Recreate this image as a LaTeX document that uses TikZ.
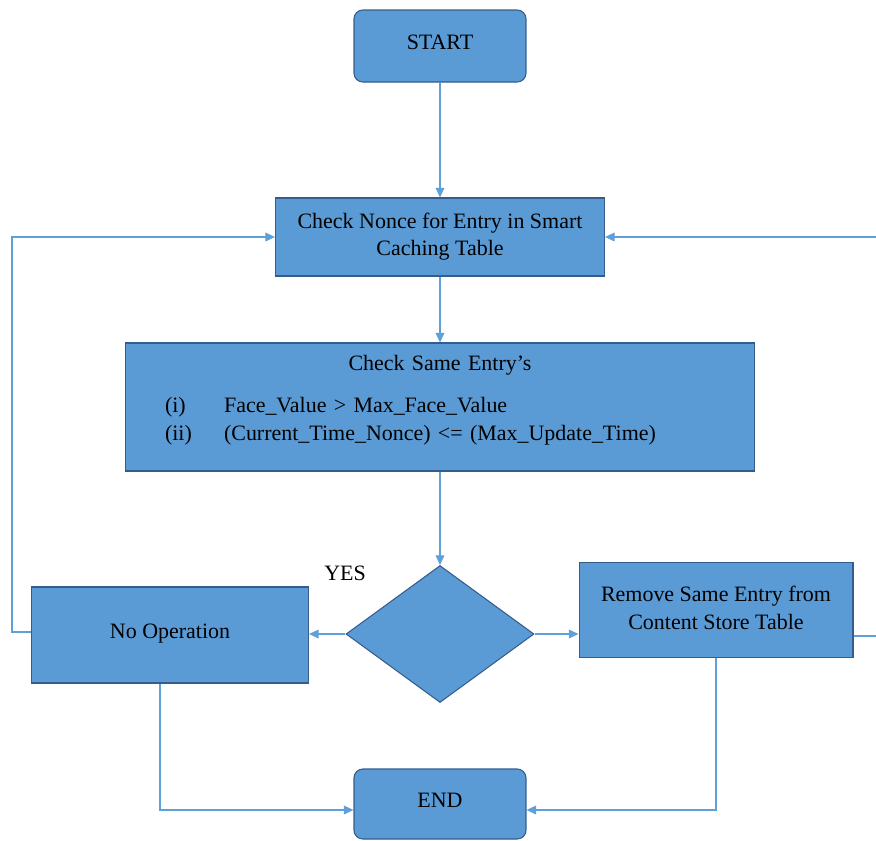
\documentclass[tikz,border=0pt]{standalone}
\usepackage{fontspec}
\setmainfont{Liberation Serif}
\usetikzlibrary{calc,arrows.meta,shapes.geometric}
\definecolor{relleno}{RGB}{91,155,213}
\definecolor{borde}{RGB}{52,92,140}
\definecolor{linea}{RGB}{96,160,218}
\begin{document}
\begin{tikzpicture}[x=0.02cm,y=-0.02cm,line width=0.6pt,>={Triangle[length=5.5pt,width=5pt]},
  caja/.style={draw=borde,fill=relleno,font=\fontsize{12.5}{15.5}\selectfont,align=center,inner sep=0pt},
  term/.style={caja,rounded corners=5pt,minimum width=3.44cm,minimum height=1.44cm},
  rombo/.style={draw=borde,fill=relleno,diamond,aspect=1.37,inner sep=0pt,minimum width=3.76cm,minimum height=2.74cm},
  flecha/.style={draw=linea,->}]
  \useasboundingbox (0,0) rectangle (876,840);
  % cajas
  \node[term] (inicio) at (440,46) {\raisebox{4pt}{START}};
  \node[term,minimum height=1.4cm] (fin) at (440,804) {\raisebox{4pt}{END}};
  \node[caja,minimum width=6.58cm,minimum height=1.56cm] (nonce) at (440,237)
    {Check Nonce for Entry in Smart\\Caching Table};
  \node[caja,minimum width=12.6cm,minimum height=2.56cm,text width=12.6cm,align=left] (mismo) at (440,407)
    {\centering Check Same Entry’s\par\vspace{8.5pt}\raggedright
     \hspace*{0.8cm}\makebox[1.18cm][l]{(i)}Face\_Value > Max\_Face\_Value\\
     \hspace*{0.8cm}\makebox[1.18cm][l]{(ii)}(Current\_Time\_Nonce) <= (Max\_Update\_Time)\par\vspace{-5pt}\hbox{}};
  \node[rombo] (dec) at (440,634) {};
  \node[caja,minimum width=5.54cm,minimum height=1.92cm] (noop) at (170,635) {\raisebox{4pt}{No Operation}};
  \node[caja,minimum width=5.48cm,minimum height=1.9cm] (quitar) at (716,610)
    {\raisebox{7pt}{\begin{tabular}{@{}c@{}}Remove Same Entry from\\Content Store Table\end{tabular}}};
  \node[font=\fontsize{12.5}{15.5}\selectfont] (si) at (345,573) {YES};
  % flechas
  \draw[flecha] (inicio) -- (nonce);
  \draw[flecha] (nonce) -- (mismo);
  \draw[flecha] (mismo) -- (dec);
  \draw[flecha] (dec.west) -- (dec.west -| noop.east);
  \draw[flecha] (dec.east) -- (dec.east -| quitar.west);
  \draw[flecha] ($(noop.west)+(0,-3)$) -- ++(-19,0) |- (nonce.west);
  \draw[flecha] ($(quitar.east)+(0,26)$) -- ++(30,0) |- (nonce.east);
  \draw[flecha] ($(noop.south)+(-10,0)$) |- ($(fin.west)+(0,6)$);
  \draw[flecha] (quitar.south) |- ($(fin.east)+(0,6)$);
\end{tikzpicture}
\end{document}
